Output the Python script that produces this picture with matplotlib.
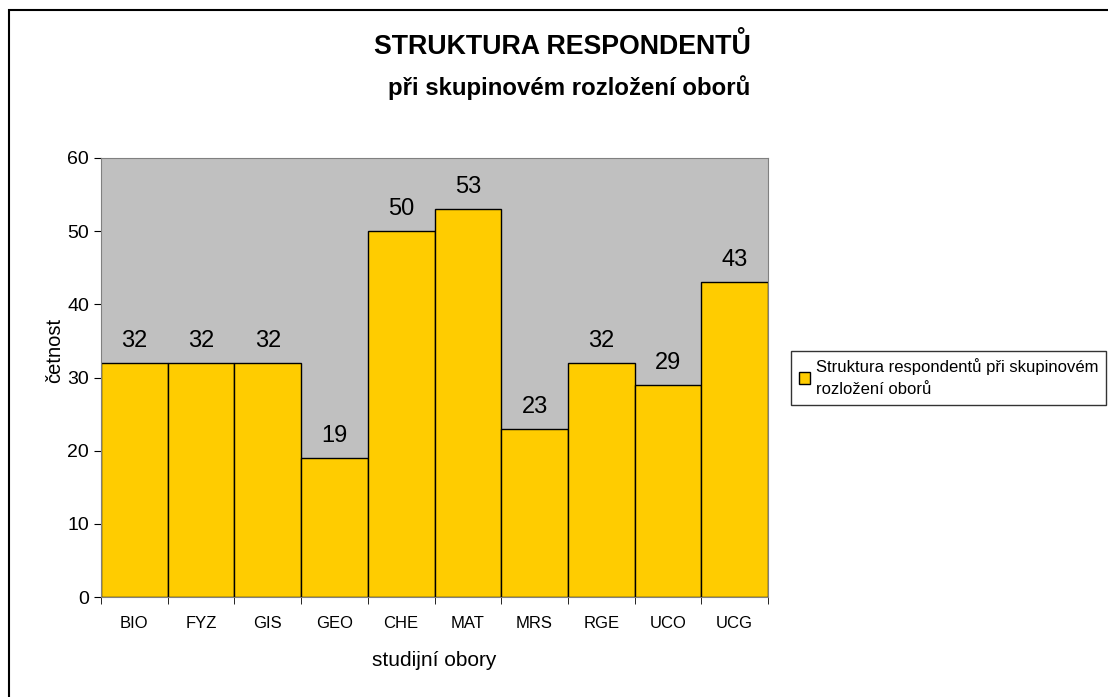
import matplotlib
matplotlib.use("Agg")
import matplotlib.pyplot as plt
from matplotlib.patches import Rectangle, Patch

plt.rcParams["font.family"] = ["Liberation Sans", "DejaVu Sans"]

obory = ["BIO", "FYZ", "GIS", "GEO", "CHE", "MAT", "MRS", "RGE", "UCO", "UCG"]
cetnost = [32, 32, 32, 19, 50, 53, 23, 32, 29, 43]

BAR = "#FFCC00"
BG = "#C0C0C0"

fig = plt.figure(figsize=(11.08, 6.97), dpi=100)
ax = fig.add_axes([101 / 1108, 1 - 597 / 697, (768 - 101) / 1108, (597 - 158) / 697])
ax.set_facecolor(BG)

x = list(range(len(obory)))
ax.bar(x, cetnost, width=1.0, color=BAR, edgecolor="black", linewidth=1.0)
for xi, v in zip(x, cetnost):
    ax.annotate(str(v), (xi, v), xytext=(0, 8), textcoords="offset points",
                ha="center", va="bottom", fontsize=17)

ax.set_xlim(-0.5, len(obory) - 0.5)
ax.set_ylim(0, 60)
ax.set_yticks(range(0, 61, 10))
ax.set_xticks(x)
ax.set_xticklabels(obory, fontsize=12)
ax.set_xticks([i - 0.5 for i in range(len(obory) + 1)], minor=True)
ax.tick_params(axis="x", which="major", length=0, pad=14)
ax.tick_params(axis="x", which="minor", length=5, direction="out")
ax.tick_params(axis="y", length=5, direction="out", labelsize=14)
for side in ["top", "right", "left", "bottom"]:
    ax.spines[side].set_color("#808080")

ax.set_xlabel("studijní obory", fontsize=15)
ax.set_ylabel("četnost", fontsize=14.5)
ax.xaxis.set_label_coords(0.5, -(651 - 597) / 439)
ax.yaxis.set_label_coords((64 - 101) / 667, (597 - 350) / 439)

fig.text(562 / 1108, 1 - 47 / 697, "STRUKTURA RESPONDENTŮ", ha="center", va="center",
         fontsize=19.3, fontweight="bold")
fig.text(569 / 1108, 1 - 88 / 697, "při skupinovém rozložení oborů", ha="center", va="center",
         fontsize=17.3, fontweight="bold")

# outer chart frame (right/bottom edges fall outside the image)
fig.add_artist(Rectangle((9 / 1108, -0.1), 1.2, 1 - 10 / 697 + 0.1, transform=fig.transFigure,
                         fill=False, edgecolor="black", linewidth=1.5))

leg = fig.legend(handles=[Patch(facecolor=BAR, edgecolor="black")],
                 labels=["Struktura respondentů při skupinovém\nrozložení oborů"],
                 loc="upper left", bbox_to_anchor=(791 / 1108, 1 - 351 / 697),
                 borderaxespad=0, fontsize=12, frameon=True, fancybox=False,
                 handlelength=0.7, handleheight=0.7, handletextpad=0.35,
                 borderpad=0.45, labelspacing=0.3)
leg.get_texts()[0].set_linespacing(1.55)
leg.get_frame().set_edgecolor("black")
leg.get_frame().set_linewidth(1.0)

fig.savefig("out.png", dpi=100)
